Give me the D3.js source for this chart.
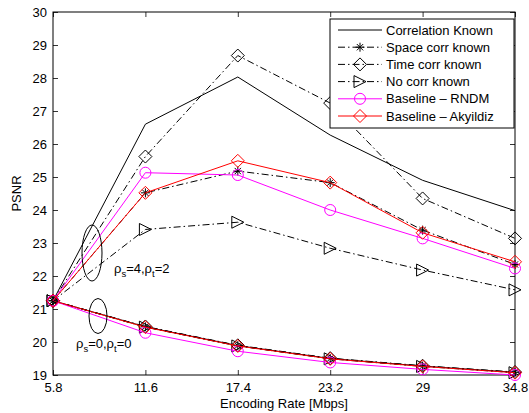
<!DOCTYPE html>
<html><head><meta charset="utf-8">
<script src="https://cdn.jsdelivr.net/npm/d3@7"></script>
<style>body{margin:0;background:#fff}svg{display:block}text{font-family:"Liberation Sans",Arial,sans-serif}</style>
</head><body><svg id="c" width="529" height="413"></svg>
<script>
const rates = [5.8, 11.6, 17.4, 23.2, 29, 34.8];
const yTicks = [19,20,21,22,23,24,25,26,27,28,29,30];
const seriesNames = ["Correlation Known","Space corr known","Time corr known","No corr known","Baseline \u2013 RNDM","Baseline \u2013 Akyildiz"];
// rho_s=4, rho_t=2
const corrKnownHi = [21.25, 26.6, 28.03, 26.27, 24.9, 23.98];
const spaceHi     = [21.25, 24.52, 25.18, 24.83, 23.39, 22.35];
const timeHi      = [21.25, 25.62, 28.68, 27.24, 24.35, 23.14];
const noCorrHi    = [21.25, 23.41, 23.63, 22.84, 22.18, 21.58];
const rndmHi      = [21.25, 25.13, 25.06, 24.0, 23.14, 22.23];
const akyHi       = [21.25, 24.52, 25.49, 24.83, 23.31, 22.43];
// rho_s=0, rho_t=0
const corrKnownLo = [21.25, 20.46, 19.89, 19.5, 19.27, 19.08];
const spaceLo     = [21.25, 20.46, 19.89, 19.5, 19.27, 19.08];
const timeLo      = [21.25, 20.47, 19.9, 19.51, 19.28, 19.09];
const noCorrLo    = [21.25, 20.45, 19.88, 19.49, 19.26, 19.07];
const rndmLo      = [21.25, 20.28, 19.72, 19.38, 19.17, 19.0];
const akyLo       = [21.25, 20.45, 19.88, 19.49, 19.26, 19.07];

const styles = [
  {color:"#000", dash:null, marker:"none"},
  {color:"#000", dash:"7,3,1.5,3", marker:"star"},
  {color:"#000", dash:"7,3,1.5,3", marker:"diamond"},
  {color:"#000", dash:"7,3,1.5,3", marker:"triangle"},
  {color:"#ff00ff", dash:null, marker:"circle"},
  {color:"#ff0000", dash:null, marker:"diamond"}
];
const hiData = [corrKnownHi, spaceHi, timeHi, noCorrHi, rndmHi, akyHi];
const loData = [corrKnownLo, spaceLo, timeLo, noCorrLo, rndmLo, akyLo];

const svg = d3.select("#c");
const L=53, R=515, T=12, B=375;
const x = d3.scaleLinear().domain([5.8,34.8]).range([L,R]);
const y = d3.scaleLinear().domain([19,30]).range([B,T]);

svg.append("rect").attr("x",L).attr("y",T).attr("width",R-L).attr("height",B-T).attr("fill","#fff");

const fs = 13;
const gx = svg.append("g").attr("transform",`translate(0,${B})`)
  .call(d3.axisBottom(x).tickValues(rates).tickSize(-5).tickPadding(8).tickFormat(d=>d3.format("")(d)));
const gxt = svg.append("g").attr("transform",`translate(0,${T})`)
  .call(d3.axisTop(x).tickValues(rates).tickSize(-5).tickFormat(""));
const gy = svg.append("g").attr("transform",`translate(${L},0)`)
  .call(d3.axisLeft(y).tickValues(yTicks).tickSize(-5).tickPadding(6).tickFormat(d3.format("d")));
const gyr = svg.append("g").attr("transform",`translate(${R},0)`)
  .call(d3.axisRight(y).tickValues(yTicks).tickSize(-5).tickFormat(""));
[gx,gxt,gy,gyr].forEach(g=>{
  g.selectAll("path").remove();
  g.selectAll("line").attr("stroke","#000").attr("stroke-width",0.8);
  g.selectAll("text").attr("font-size",fs).attr("fill","#000").style("font-family","Liberation Sans, Arial, sans-serif");
});
svg.append("rect").attr("x",L).attr("y",T).attr("width",R-L).attr("height",B-T)
  .attr("fill","none").attr("stroke","#000").attr("stroke-width",1);

svg.append("text").attr("x",(L+R)/2).attr("y",408).attr("text-anchor","middle").attr("font-size",fs).text("Encoding Rate [Mbps]");
svg.append("text").attr("transform",`translate(21,${(T+B)/2}) rotate(-90)`).attr("text-anchor","middle").attr("font-size",fs).text("PSNR");

function marker(g, type, cx, cy, color){
  if(type==="circle"){
    g.append("circle").attr("cx",cx).attr("cy",cy).attr("r",5.5).attr("fill","none").attr("stroke",color).attr("stroke-width",1);
  } else if(type==="diamond"){
    const s=6.5;
    g.append("path").attr("d",`M${cx},${cy-s}L${cx+s},${cy}L${cx},${cy+s}L${cx-s},${cy}Z`).attr("fill","none").attr("stroke",color).attr("stroke-width",1);
  } else if(type==="triangle"){
    const s=6;
    g.append("path").attr("d",`M${cx+s},${cy}L${cx-s},${cy-s}L${cx-s},${cy+s}Z`).attr("fill","none").attr("stroke",color).attr("stroke-width",1);
  } else if(type==="star"){
    const s=4.5;
    g.append("path").attr("d",`M${cx-s},${cy}L${cx+s},${cy}M${cx},${cy-s}L${cx},${cy+s}M${cx-s*0.7},${cy-s*0.7}L${cx+s*0.7},${cy+s*0.7}M${cx-s*0.7},${cy+s*0.7}L${cx+s*0.7},${cy-s*0.7}`)
      .attr("stroke",color).attr("stroke-width",1);
  }
}
const line = d3.line().x((d,i)=>x(rates[i])).y(d=>y(d));
const plot = svg.append("g");
[loData, hiData].forEach(set=>{
  set.forEach((vals,k)=>{
    const st = styles[k];
    plot.append("path").attr("d",line(vals)).attr("fill","none").attr("stroke",st.color)
      .attr("stroke-width",1).attr("stroke-dasharray",st.dash);
    vals.forEach((v,i)=>marker(plot, st.marker, x(rates[i]), y(v), st.color));
  });
});

svg.append("ellipse").attr("cx",92).attr("cy",253).attr("rx",10).attr("ry",28).attr("fill","none").attr("stroke","#000").attr("stroke-width",1);
svg.append("ellipse").attr("cx",98).attr("cy",316).attr("rx",9).attr("ry",17.5).attr("fill","none").attr("stroke","#000").attr("stroke-width",1);
function rhoText(xp, yp, s, t){
  const tx = svg.append("text").attr("x",xp).attr("y",yp).attr("font-size",fs);
  tx.append("tspan").text("\u03c1");
  tx.append("tspan").attr("font-size",9.5).attr("dy",4).text("s");
  tx.append("tspan").attr("dy",-4).text("="+s+",\u03c1");
  tx.append("tspan").attr("font-size",9.5).attr("dy",4).text("t");
  tx.append("tspan").attr("dy",-4).text("="+t);
}
rhoText(114, 273, 4, 2);
rhoText(76, 348, 0, 0);

const lg = svg.append("g");
lg.append("rect").attr("x",330).attr("y",19).attr("width",184).attr("height",109).attr("fill","#fff").attr("stroke","#000").attr("stroke-width",1);
seriesNames.forEach((n,k)=>{
  const st = styles[k];
  const ly = 30 + k*17.2;
  lg.append("line").attr("x1",338).attr("x2",382).attr("y1",ly).attr("y2",ly).attr("stroke",st.color).attr("stroke-width",1).attr("stroke-dasharray",st.dash);
  marker(lg, st.marker, 360, ly, st.color);
  lg.append("text").attr("x",386).attr("y",ly+4.5).attr("font-size",fs).text(n);
});
</script></body></html>
